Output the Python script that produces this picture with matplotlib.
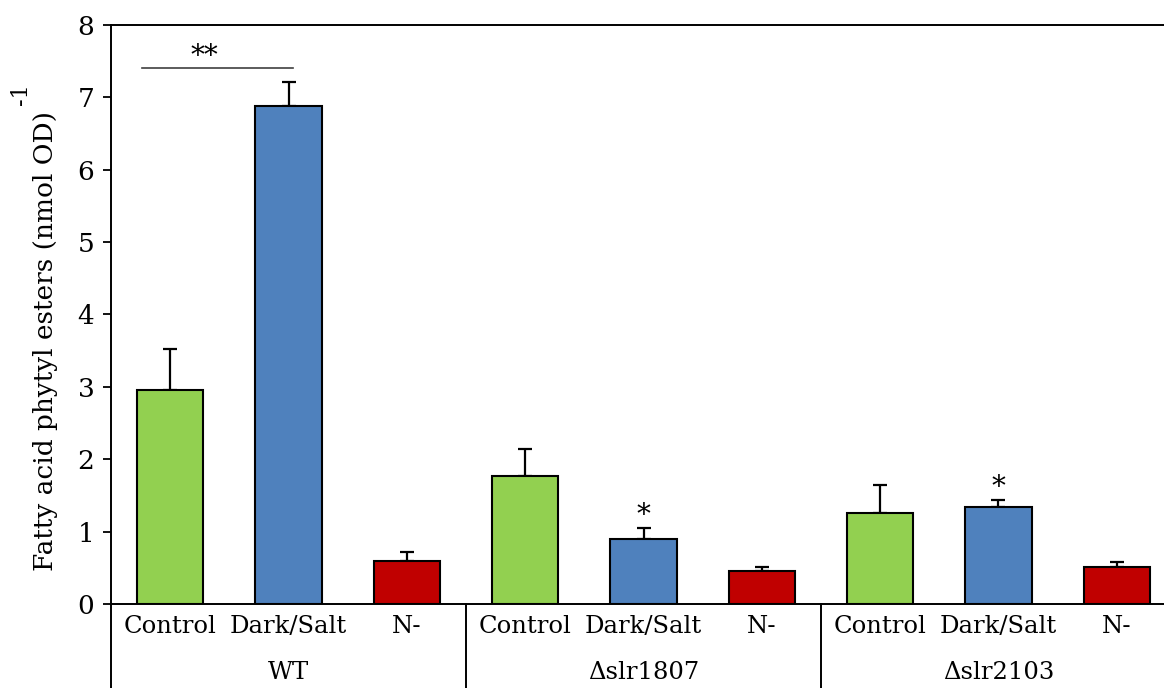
import matplotlib
matplotlib.use("Agg")
import matplotlib.pyplot as plt
import numpy as np

plt.rcParams['font.family'] = ['DejaVu Serif']

# data
groups = ['WT', '\u0394slr1807', '\u0394slr2103']
conditions = ['Control', 'Dark/Salt', 'N-']
means = [2.96, 6.88, 0.60,
         1.77, 0.90, 0.46,
         1.26, 1.34, 0.51]
errors = [0.56, 0.33, 0.12,
          0.37, 0.15, 0.05,
          0.38, 0.10, 0.07]
cond_colors = ['#92D050', '#4F81BD', '#C00000']
stars = [(4, '*'), (7, '*')]  # (bar index, label)

fig = plt.figure(figsize=(11.64, 6.88), dpi=100)
ax = fig.add_axes([0.0954, 0.1221, 0.9149, 0.8416])

x = np.arange(len(means))
colors = cond_colors * len(groups)
ax.bar(x, means, width=0.56, color=colors, edgecolor='black', linewidth=1.5, zorder=2)
ax.errorbar(x, means, yerr=[np.zeros(len(errors)), errors], fmt='none',
            ecolor='black', elinewidth=1.6, capsize=5, capthick=1.6, zorder=1)

ax.set_xlim(-0.5, len(means) - 0.5)
ax.set_ylim(0, 8)
ax.set_yticks(range(0, 9))
ax.tick_params(axis='y', direction='out', length=6, width=1.3, pad=6, labelsize=19)
ax.set_xticks(x)
ax.set_xticklabels(conditions * len(groups), fontsize=17.5)
ax.tick_params(axis='x', length=0, pad=8)

for s in ['left', 'bottom', 'top']:
    ax.spines[s].set_linewidth(1.4)
ax.spines['right'].set_visible(False)

# group labels and separators below the axis
trans = ax.get_xaxis_transform()
bottom = -0.15
for xs in [-0.5, 2.5, 5.5]:
    ax.plot([xs, xs], [0, bottom], color='black', lw=1.4, transform=trans, clip_on=False)
for i, g in enumerate(groups):
    ax.text(3 * i + 1, -0.118, g, ha='center', va='center', fontsize=17.5, transform=trans)

# significance marks
ax.plot([-0.24, 1.04], [7.4, 7.4], color='#404040', lw=1.2)
ax.text(0.29, 7.38, '**', ha='center', va='bottom', fontsize=20)
for i, lab in stars:
    ax.text(i, means[i] + errors[i] - 0.02, lab, ha='center', va='bottom', fontsize=20)

ax.set_ylabel('Fatty acid phytyl esters (nmol OD)', fontsize=19)
ax.yaxis.set_label_coords(-0.05, 0.455)
ax.text(-0.085, 0.88, '-1', rotation=90, fontsize=16, transform=ax.transAxes,
        ha='center', va='center')

fig.savefig('out.png', dpi=100)
